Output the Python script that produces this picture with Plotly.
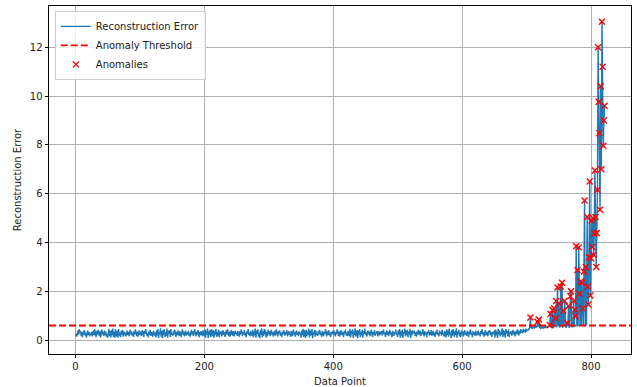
import plotly.graph_objects as go

# Reconstruction error per data point, in hundredths (points 0-699: normal regime)
baseline_hundredths = [
    18, 26, 14, 33, 40, 22, 45, 29, 37, 16, 31, 12, 36, 24, 41, 19, 30, 10, 27, 39, 21, 34, 15, 28, 22,
    34, 15, 26, 40, 19, 44, 28, 13, 37, 23, 42, 29, 17, 38, 11, 27, 43, 24, 33, 16, 39, 21, 35, 14, 26,
    10, 31, 46, 16, 37, 11, 41, 20, 47, 13, 35, 9, 44, 25, 15, 40, 10, 45, 19, 30, 12, 38, 23, 42, 14,
    36, 21, 31, 15, 27, 39, 20, 34, 16, 29, 42, 24, 36, 18, 30, 13, 38, 25, 44, 28, 17, 35, 14, 27, 40,
    22, 35, 16, 30, 41, 24, 13, 38, 27, 45, 31, 18, 28, 11, 36, 23, 42, 17, 33, 26, 14, 39, 28, 19, 32,
    11, 40, 19, 46, 9, 34, 25, 48, 14, 37, 8, 42, 21, 44, 12, 31, 17, 47, 10, 38, 26, 41, 13, 45, 22,
    29, 16, 36, 24, 43, 27, 13, 34, 20, 40, 30, 17, 37, 25, 12, 31, 44, 22, 35, 15, 28, 39, 18, 32, 24,
    38, 18, 31, 14, 27, 42, 23, 36, 16, 30, 45, 28, 15, 34, 22, 41, 26, 12, 33, 20, 37, 28, 16, 40, 25,
    15, 44, 10, 39, 24, 47, 9, 35, 20, 42, 12, 45, 27, 16, 41, 10, 37, 23, 46, 13, 32, 18, 43, 11, 36,
    24, 36, 15, 28, 41, 21, 33, 13, 30, 40, 22, 44, 27, 17, 35, 14, 31, 42, 24, 19, 37, 15, 28, 39, 25,
    31, 17, 38, 26, 14, 36, 23, 43, 28, 16, 33, 24, 41, 19, 30, 12, 37, 27, 45, 21, 31, 15, 36, 26, 18,
    42, 12, 36, 19, 47, 10, 39, 25, 44, 14, 31, 8, 41, 21, 48, 11, 36, 17, 45, 24, 40, 10, 33, 16, 43,
    25, 37, 16, 29, 42, 22, 33, 14, 27, 39, 19, 31, 44, 24, 15, 36, 27, 40, 18, 30, 13, 35, 23, 41, 28,
    19, 33, 25, 41, 15, 28, 37, 21, 31, 13, 38, 27, 17, 43, 24, 34, 14, 29, 40, 22, 33, 16, 36, 25, 31,
    10, 38, 20, 46, 13, 41, 27, 9, 43, 16, 35, 23, 47, 11, 40, 19, 29, 45, 8, 32, 24, 42, 14, 39, 21,
    30, 17, 37, 25, 42, 21, 31, 14, 38, 27, 16, 34, 24, 45, 28, 15, 36, 22, 41, 19, 31, 13, 33, 25, 38,
    22, 40, 28, 15, 34, 24, 44, 27, 17, 36, 14, 29, 41, 21, 33, 26, 12, 37, 28, 43, 19, 31, 16, 38, 27,
    17, 46, 11, 38, 25, 44, 9, 35, 21, 48, 14, 30, 41, 8, 39, 23, 45, 12, 34, 19, 42, 10, 37, 26, 47,
    21, 33, 14, 28, 40, 24, 35, 16, 29, 43, 26, 13, 34, 23, 41, 18, 31, 27, 38, 15, 28, 37, 19, 33, 25,
    37, 19, 29, 44, 24, 32, 13, 27, 40, 21, 35, 16, 28, 42, 23, 31, 12, 38, 25, 17, 34, 27, 43, 22, 30,
    13, 40, 23, 45, 10, 36, 18, 43, 9, 32, 27, 47, 15, 39, 20, 42, 12, 35, 24, 46, 9, 37, 19, 41, 28,
    27, 38, 18, 31, 14, 35, 25, 42, 21, 29, 39, 16, 32, 24, 45, 27, 15, 37, 23, 31, 12, 34, 28, 41, 19,
    33, 22, 41, 17, 28, 38, 19, 31, 13, 35, 25, 43, 21, 29, 15, 39, 27, 34, 18, 42, 24, 31, 14, 37, 25,
    11, 44, 20, 39, 14, 47, 24, 32, 8, 41, 18, 45, 27, 12, 38, 22, 48, 10, 35, 25, 42, 15, 31, 12, 40,
    24, 35, 15, 28, 41, 22, 31, 18, 38, 27, 13, 36, 25, 44, 21, 29, 12, 37, 24, 32, 17, 39, 28, 19, 31,
    39, 20, 31, 15, 37, 26, 45, 22, 32, 14, 28, 41, 19, 35, 25, 16, 38, 29, 42, 21, 32, 13, 34, 24, 29,
    39, 11, 43, 20, 35, 9, 46, 25, 40, 15, 32, 23, 48, 12, 42, 19, 36, 10, 45, 28, 37, 16, 44, 13, 31,
    26, 37, 18, 32, 42, 23, 35, 15, 29, 39, 24, 44, 30, 19, 38, 27, 45, 31, 40, 28, 46, 34, 42, 31, 47,
]

# Points 700-821: drift and failure regime
drift_errors = [
    0.35, 0.42, 0.38, 0.48, 0.44, 0.55, 0.93, 0.50, 0.58, 0.45,
    0.55, 0.52, 0.48, 0.57, 0.50, 0.55, 0.53, 0.75, 0.55, 0.85,
    0.50, 0.56, 0.45, 0.58, 0.52, 0.50, 0.56, 0.48, 0.58, 0.53,
    0.55, 0.50, 0.57, 0.52, 0.59, 0.55, 0.62, 1.07, 0.55, 0.50,
    1.23, 0.50, 0.52, 1.30, 0.55, 0.90, 1.60, 0.52, 2.16, 0.58,
    1.50, 0.54, 0.55, 2.20, 0.56, 2.35, 0.50, 1.20, 0.58, 1.60,
    0.52, 0.50, 0.55, 0.70, 0.57, 1.40, 0.50, 0.56, 1.80, 2.00,
    0.55, 0.54, 0.58, 1.60, 0.53, 1.25, 0.98, 3.85, 0.56, 2.87,
    0.57, 3.80, 1.90, 0.58, 2.40, 0.58, 2.35, 1.30, 0.57, 2.80,
    5.72, 0.55, 3.00, 0.59, 5.04, 2.20, 1.46, 3.40, 6.50, 1.83,
    3.35, 4.90, 3.82, 5.00, 3.50, 4.37, 6.95, 5.04, 3.00, 4.39,
    6.16, 12.00, 9.77, 8.48, 5.34, 10.40, 7.00, 13.04, 11.20, 7.96, 9.00, 9.60,
]

threshold = 0.6
x_ticks = [0, 200, 400, 600, 800]
y_ticks = [0, 2, 4, 6, 8, 10, 12]

errors = [v / 100 for v in baseline_hundredths] + drift_errors
points = list(range(len(errors)))
anom_x = [i for i, e in zip(points, errors) if e > threshold]
anom_y = [e for e in errors if e > threshold]

# matplotlib-like 5% padding around the data
n = len(errors) - 1
x_pad = 0.05 * n
y_lo, y_hi = min(errors), max(errors)
y_pad = 0.05 * (y_hi - y_lo)

FONT = "DejaVu Sans"
FS = 10

fig = go.Figure()
fig.add_trace(go.Scatter(
    x=points, y=errors, mode="lines", name="Reconstruction Error",
    line=dict(color="#1f77b4", width=1.4), legendrank=1,
))
fig.add_trace(go.Scatter(
    x=anom_x, y=anom_y, mode="markers", name="Anomalies",
    marker=dict(symbol="x-thin", size=6, color="red",
                line=dict(color="red", width=1.4)),
    legendrank=3,
))
fig.add_shape(
    type="line", xref="paper", x0=0, x1=1, yref="y", y0=threshold, y1=threshold,
    line=dict(color="red", width=1.8, dash="7px,3px"),
    showlegend=True, name="Anomaly Threshold", legendrank=2, layer="above",
)

axis_common = dict(
    showgrid=True, gridcolor="#b0b0b0", gridwidth=0.8,
    showline=True, linecolor="black", linewidth=0.8, mirror=True,
    ticks="outside", ticklen=3.5, tickwidth=0.8, tickcolor="black",
    zeroline=False, automargin=False,
    tickfont=dict(family=FONT, size=FS, color="#222222"),
)

fig.update_layout(
    width=637, height=387,
    margin=dict(l=49, r=6, t=6, b=33),
    paper_bgcolor="white", plot_bgcolor="white",
    font=dict(family=FONT, size=FS, color="#222222"),
    showlegend=True,
    legend=dict(
        x=0.01, y=0.986, xanchor="left", yanchor="top",
        bgcolor="rgba(255,255,255,0.8)", bordercolor="#cccccc", borderwidth=1,
        font=dict(family=FONT, size=FS, color="#222222"),
        tracegroupgap=0, itemwidth=30,
    ),
    xaxis=dict(
        range=[-x_pad, n + x_pad], tickvals=x_ticks,
        title=dict(text="Data Point", font=dict(family=FONT, size=FS), standoff=6),
        **axis_common,
    ),
    yaxis=dict(
        range=[y_lo - y_pad, y_hi + y_pad], tickvals=y_ticks,
        title=dict(text="Reconstruction Error", font=dict(family=FONT, size=FS), standoff=6),
        **axis_common,
    ),
)

fig.write_html("out.html")
